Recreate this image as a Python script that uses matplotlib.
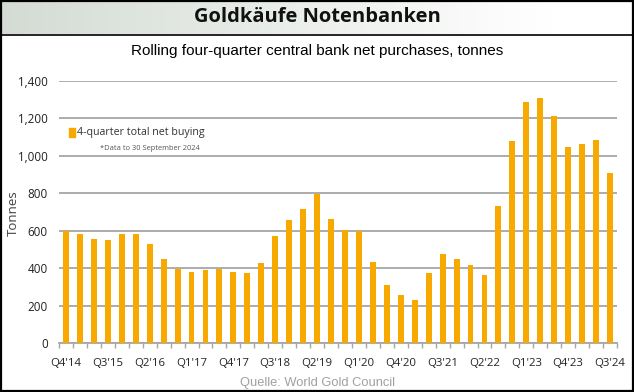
import numpy as np
import matplotlib
matplotlib.use('Agg')
import matplotlib.pyplot as plt
from matplotlib.patches import Rectangle

# rolling four-quarter net purchases, Q4'14 .. Q3'24
values = [600, 585, 557, 552, 580, 585, 530, 448, 397, 377,
          388, 397, 381, 372, 427, 573, 655, 717, 795, 664,
          603, 600, 434, 310, 255, 230, 374, 477, 449, 415,
          365, 733, 1082, 1290, 1308, 1214, 1047, 1061, 1086, 906]
tick_labels = ["Q4'14", "Q3'15", "Q2'16", "Q1'17", "Q4'17", "Q3'18", "Q2'19",
               "Q1'20", "Q4'20", "Q3'21", "Q2'22", "Q1'23", "Q4'23", "Q3'24"]
y_ticks = [0, 200, 400, 600, 800, 1000, 1200, 1400]

BAR_COL  = '#F7A900'
GRID_COL = '#a6a6a6'
W, H = 634, 392

fig = plt.figure(figsize=(W / 100, H / 100), dpi=100)

# ── header band ──────────────────────────────────────────────────────────────
hdr = fig.add_axes([0, 1 - 34 / H, 1, 34 / H])
grad = np.linspace(0, 1, 256)[None, :]
c0 = np.array([0.83, 0.86, 0.83])
c1 = np.array([1.0, 1.0, 1.0])
t = np.clip(grad * 1.15, 0, 1)[..., None]
hdr.imshow(c0 * (1 - t) + c1 * t, aspect='auto', extent=[0, 1, 0, 1])
hdr.set_xlim(0, 1)
hdr.set_ylim(0, 1)
hdr.axis('off')
hdr.text(0.5, 0.5, "Goldkäufe Notenbanken", ha='center', va='center',
         fontsize=14.5, fontweight='bold', family='Open Sans', color='#111111')
fig.add_artist(plt.Line2D([0, 1], [1 - 34.5 / H] * 2, color='black', lw=1.2))

fig.text(0.5, 1 - 51 / H, "Rolling four-quarter central bank net purchases, tonnes",
         ha='center', va='center', fontsize=11, family='Liberation Sans')

# ── bars ─────────────────────────────────────────────────────────────────────
ax = fig.add_axes([59 / W, 1 - 343 / H, 558 / W, 262 / H])
x = np.arange(len(values))
ax.bar(x, values, width=0.42, color=BAR_COL, zorder=3)

ax.set_xlim(-0.5, len(values) - 0.5)
ax.set_ylim(0, 1400)
ax.set_yticks(y_ticks)
ax.set_yticklabels([f"{v:,}" for v in y_ticks], family='Open Sans', fontsize=8.4,
                   color='#222222')
ax.yaxis.grid(True, color=GRID_COL, lw=1.3, zorder=1)
ax.tick_params(axis='y', length=0, pad=8)

ax.set_xticks(x[::3])
ax.set_xticklabels(tick_labels, family='Open Sans', fontsize=8.2, color='#222222')
ax.set_xticks(np.arange(-0.5, len(values)), minor=True)
ax.tick_params(axis='x', which='major', length=0, pad=11)
ax.tick_params(axis='x', which='minor', length=3.5, color=GRID_COL, width=1)

for s in ['top', 'right', 'left']:
    ax.spines[s].set_visible(False)
ax.spines['bottom'].set_color(GRID_COL)
ax.spines['bottom'].set_linewidth(1.3)
ax.set_axisbelow(True)

fig.text(13 / W, 1 - 213 / H, "Tonnes", rotation=90, ha='center', va='center',
         family='Open Sans', fontsize=9.5, color='#404040')

# legend
ax.add_patch(Rectangle(((69 - 59) / 558, (343 - 137) / 262), 6 / 558, 9 / 262,
                       transform=ax.transAxes, color=BAR_COL, zorder=4))
ax.text((77 - 59) / 558, (343 - 132) / 262, "4-quarter total net buying",
        transform=ax.transAxes, va='center', ha='left', fontsize=7.7,
        family='Open Sans', color='#333333')
ax.text((100 - 59) / 558, (343 - 148) / 262, "*Data to 30 September 2024",
        transform=ax.transAxes, va='center', ha='left', fontsize=5.4,
        family='Open Sans', color='#555555')

fig.text(0.5, 1 - 383 / H, "Quelle: World Gold Council", ha='center', va='center',
         fontsize=9.3, family='Liberation Sans', color='#a0a0a0')

# outer frame
fig.add_artist(Rectangle((0.001, 0.002), 0.997, 0.996, transform=fig.transFigure,
                         fill=False, edgecolor='black', lw=1.6))

fig.savefig('out.png', dpi=100)
